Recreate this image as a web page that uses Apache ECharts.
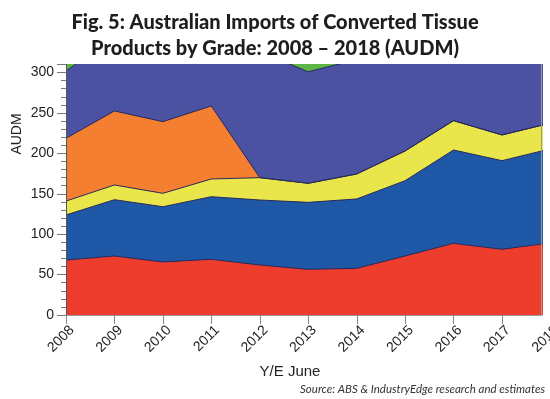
<!DOCTYPE html>
<html lang="en" style="height: 100%">
<head>
  <meta charset="utf-8">
  <title>tissue_imports</title>
  <script src="https://cdn.jsdelivr.net/npm/echarts@6/dist/echarts.min.js"></script>
</head>
<body style="height: 100%; margin: 0; background: #fff">
  <div id="container" style="width: 550px; height: 399px"></div>
  <script type="text/javascript">
    // years (Y/E June)
    var years = [2008, 2009, 2010, 2011, 2012, 2013, 2014, 2015, 2016, 2017, 2018];
    // values per grade, AUDM, bottom layer first
    var red    = [68, 73, 65.6, 68.9, 61.9, 56.5, 57.7, 73, 88.7, 81.3, 89.3];
    var blue   = [55.8, 69.7, 68.4, 77.5, 80.4, 82.9, 85.9, 93.2, 115.5, 109.7, 116.3];
    var yellow = [17.2, 18.2, 16.6, 21.9, 27.7, 23.6, 30.9, 36.8, 36.3, 31.8, 31.8];
    var orange = [77.7, 91.6, 88.7, 90.4, 0, 0, 0, 0, 0, 0, 0];
    var purple = [83.3, 91.5, 100.7, 86.3, 156, 138, 141.5, 137, 119.5, 127.2, 122.6];
    var green  = [25, 25, 25, 25, 25, 25, 25, 25, 25, 25, 25];

    var layers = [
      { name: 'red', data: red, color: '#ee3d2c' },
      { name: 'blue', data: blue, color: '#1e58a7' },
      { name: 'yellow', data: yellow, color: '#e8e64b' },
      { name: 'orange', data: orange, color: '#f47f30' },
      { name: 'purple', data: purple, color: '#4b52a1' },
      { name: 'green', data: green, color: '#5db548' }
    ];

    var dom = document.getElementById('container');
    var myChart = echarts.init(dom, null, { renderer: 'canvas' });

    // stack by hand (value x axis), draw top layer first so lower ones sit over it
    var running = years.map(function () { return 0; });
    var series = layers.map(function (l) {
      running = running.map(function (s, k) { return s + l.data[k]; });
      return {
        name: l.name,
        type: 'line',
        xAxisIndex: 0,
        yAxisIndex: 0,
        symbol: 'none',
        data: years.map(function (y, k) { return [y, running[k]]; }),
        lineStyle: { color: '#272a5c', width: 1 },
        areaStyle: { color: l.color, opacity: 1, origin: 'start' }
      };
    }).reverse();

    var option = {
      animation: false,
      title: {
        left: 'center',
        top: 5,
        text: 'Fig. 5: Australian Imports of Converted Tissue\nProducts by Grade: 2008 \u2013 2018 (AUDM)',
        textStyle: {
          fontFamily: 'Lato',
          fontWeight: 900,
          fontSize: 20,
          lineHeight: 26,
          color: '#1e1e1e'
        }
      },
      grid: [
        // plot area (cut just before 2018)
        { left: 66, right: 8.3, top: 64.5, bottom: 84, show: false, outerBoundsMode: 'none' },
        // year ticks
        { left: 66, right: -0.6, top: 64.5, bottom: 84, show: false, outerBoundsMode: 'none' },
        // year labels, nudged right like the original
        { left: 72, right: -6.6, top: 64.5, bottom: 84, show: false, outerBoundsMode: 'none' }
      ],
      xAxis: [
        {
          gridIndex: 0, type: 'value', min: 2008, max: 2017.82,
          z: 5,
          axisLine: { lineStyle: { color: '#3a2020', width: 1 } },
          axisTick: { show: false }, axisLabel: { show: false },
          splitLine: { show: false }
        },
        {
          gridIndex: 0, type: 'value', position: 'top', min: 2008, max: 2017.82,
          z: 5,
          axisLine: { lineStyle: { color: '#9a9a9a', width: 1 } },
          axisTick: { show: false }, axisLabel: { show: false },
          splitLine: { show: false }
        },
        {
          gridIndex: 1, type: 'value', min: 2008, max: 2018, interval: 1,
          axisLine: { show: false },
          axisTick: { show: true, length: 9, lineStyle: { color: '#888' } },
          axisLabel: { show: false },
          splitLine: { show: false }
        },
        {
          gridIndex: 2, type: 'value', min: 2008, max: 2018, interval: 1,
          axisLine: { show: false },
          axisTick: { show: false },
          axisLabel: {
            rotate: 45, margin: 13, fontSize: 14,
            fontFamily: 'Liberation Sans', color: '#222',
            formatter: function (v) { return String(v); }
          },
          splitLine: { show: false }
        }
      ],
      yAxis: [
        {
          gridIndex: 0, type: 'value', min: 0, max: 310, interval: 50,
          z: 5,
          axisLine: { show: true, lineStyle: { color: '#555' } },
          axisTick: { show: true, length: 9, lineStyle: { color: '#777' } },
          minorTick: { show: true, splitNumber: 5, length: 5, lineStyle: { color: '#777' } },
          axisLabel: {
            margin: 12, fontSize: 14, fontFamily: 'Liberation Sans', color: '#222',
            showMaxLabel: false
          },
          splitLine: { show: false }
        },
        {
          gridIndex: 0, type: 'value', position: 'right', min: 0, max: 310,
          z: 5,
          axisLine: { show: true, lineStyle: { color: '#9a9a9a' } },
          axisTick: { show: false }, axisLabel: { show: false },
          splitLine: { show: false }
        },
        { gridIndex: 1, type: 'value', min: 0, max: 310, show: false },
        { gridIndex: 2, type: 'value', min: 0, max: 310, show: false }
      ],
      graphic: [
        {
          type: 'text', x: 17, y: 134, rotation: Math.PI / 2,
          style: {
            text: 'AUDM', fontSize: 14, fontFamily: 'Liberation Sans', fill: '#222',
            textAlign: 'center', textVerticalAlign: 'middle'
          }
        },
        {
          type: 'text', x: 290, y: 372,
          style: {
            text: 'Y/E June', fontSize: 15, fontFamily: 'Liberation Sans', fill: '#222',
            textAlign: 'center', textVerticalAlign: 'middle'
          }
        },
        {
          type: 'text', x: 545, y: 389,
          style: {
            text: 'Source: ABS & IndustryEdge research and estimates', fontSize: 11.5,
            fontFamily: 'Lato', fontStyle: 'italic', fill: '#333',
            textAlign: 'right', textVerticalAlign: 'middle'
          }
        }
      ],
      series: series
    };

    myChart.setOption(option);
    window.addEventListener('resize', myChart.resize);
  </script>
</body>
</html>
